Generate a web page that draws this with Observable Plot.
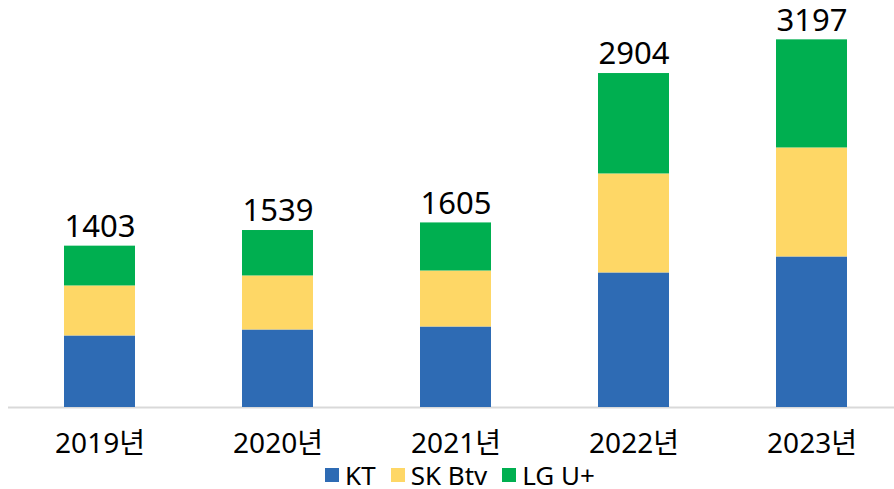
<!DOCTYPE html>
<html>
<head>
<meta charset="utf-8">
<script src="https://cdn.jsdelivr.net/npm/d3@7"></script>
<script src="https://cdn.jsdelivr.net/npm/@observablehq/plot@0.6"></script>
<style>
  html, body { margin: 0; padding: 0; background: #fff; }
  #chart { width: 894px; }
  #leg { width: 894px; height: 29px; display: flex; justify-content: center; align-items: center; padding-left: 26px; box-sizing: border-box; line-height: 1; }
  #leg > div { min-height: 0 !important; margin: 0 !important; justify-content: center; color: #000; line-height: 1 !important; }
  .lg-swatch { margin-right: 15px !important; line-height: 1 !important; }
  .lg-swatch:last-child { margin-right: 0 !important; }
  .lg-swatch > svg { margin-right: 6px !important; }
</style>
</head>
<body>
<div id="chart"></div>
<div id="leg"></div>
<script>
const years = ["2019년", "2020년", "2021년", "2022년", "2023년"];
const series = ["KT", "SK Btv", "LG U+"];
const colors = ["#2e6bb4", "#fed766", "#00af50"];
const kt = [622, 674, 700, 1170, 1309];
const skb = [435, 470, 487, 861, 948];
const lgu = [346, 395, 418, 873, 940];
const totals = [1403, 1539, 1605, 2904, 3197];

const seriesValues = [kt, skb, lgu];
const data = [];
series.forEach((s, si) => {
  years.forEach((y, yi) => data.push({year: y, series: s, value: seriesValues[si][yi]}));
});
const totalData = years.map((y, i) => ({year: y, total: totals[i]}));

const font = "'Noto Sans', 'Noto Sans CJK KR', sans-serif";

const plot = Plot.plot({
  width: 894,
  height: 460,
  marginTop: 39,
  marginBottom: 53,
  marginLeft: 8,
  marginRight: 0,
  style: {fontFamily: font, color: "#000", background: "#fff", overflow: "visible"},
  x: {domain: years, paddingInner: 0.6, paddingOuter: 0.278, align: 0.543, label: null},
  y: {domain: [0, 3200], axis: null},
  color: {domain: series, range: colors},
  marks: [
    Plot.ruleY([0], {stroke: "#d9d9d9", strokeWidth: 2}),
    Plot.barY(data, {x: "year", y: "value", fill: "series"}),
    Plot.axisX({tickSize: 0, tickPadding: 26, fontSize: 28, label: null}),
    Plot.text(totalData, {x: "year", y: "total", text: d => String(d.total), fontSize: 31, dy: -19, fill: "#000"})
  ]
});

const legend = Plot.legend({
  color: {domain: series, range: colors},
  swatchWidth: 14,
  swatchHeight: 14,
  className: "lg",
  style: {fontSize: "26px", fontFamily: font, color: "#000"}
});

document.getElementById("chart").appendChild(plot);
document.getElementById("leg").appendChild(legend);
</script>
</body>
</html>
